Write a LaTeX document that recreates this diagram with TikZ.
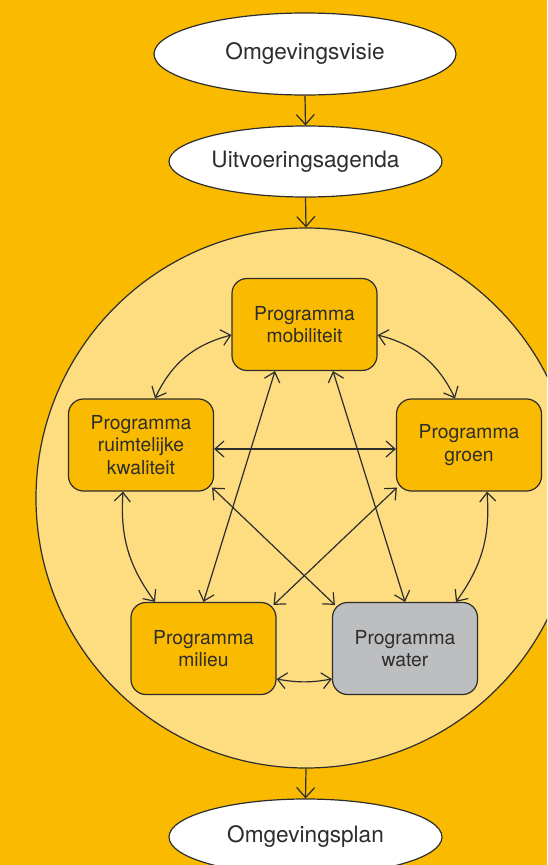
\documentclass[tikz,border=0pt]{standalone}
\usepackage{fontspec}
\setmainfont{TeX Gyre Heros}
\usetikzlibrary{shapes.geometric,arrows.meta,calc}
\definecolor{bgorange}{RGB}{249,186,0}
\definecolor{circfill}{RGB}{253,221,128}
\definecolor{watergray}{RGB}{189,190,192}
\definecolor{ink}{RGB}{45,45,45}
\begin{document}
\begin{tikzpicture}[x=1pt,y=-1pt,
  oval/.style={ellipse, draw=ink, line width=1.2pt, fill=white, inner sep=0pt, text=ink,
    font=\fontsize{22.6}{26}\selectfont},
  prog/.style={draw=ink, line width=1.2pt, fill=bgorange, rounded corners=15pt,
    minimum width=145pt, minimum height=92pt, inner sep=0pt, align=center, text=ink,
    font=\fontsize{19.3}{22.7}\selectfont},
  link/.style={draw=ink, line width=1.2pt, {Straight Barb[length=9pt,width=16pt]}-{Straight Barb[length=9pt,width=16pt]}},
  flow/.style={draw=ink, line width=1.2pt, -{Straight Barb[length=10pt,width=18pt]}}]
\useasboundingbox (0,0) rectangle (547,865);
\fill[bgorange] (0,0) rectangle (547,865);
\clip (0,0) rectangle (547,865);

\node[circle, draw=ink, line width=1.2pt, fill=circfill, minimum size=540pt, inner sep=0pt] (circ) at (306,498) {};

\node[oval, minimum width=302pt, minimum height=82pt] (visie) at (305,54) {Omgevingsvisie};
\node[oval, minimum width=273pt, minimum height=71pt] (agenda) at (305.5,161.5) {Uitvoeringsagenda};
\node[oval, minimum width=273pt, minimum height=76pt] (plan) at (305.5,837) {Omgevingsplan};

\draw[flow] (visie.south) -- (agenda.north);
\draw[flow] (agenda.south) -- (circ.north);
\draw[flow] (circ.south) -- (plan.north);

\node[prog] (mob) at (304.5,324.5) {Programma\\mobiliteit};
\node[prog] (ruim) at (141,445) {Programma\\ruimtelijke\\kwaliteit};
\node[prog] (groen) at (469,445) {Programma\\groen};
\node[prog] (mil) at (203.5,648.5) {Programma\\milieu};
\node[prog, fill=watergray] (water) at (405,648.5) {Programma\\water};

% outer ring links
\draw[link] ($(mob.west)+(0,10.5)$) to[bend right=25] ($(ruim.north)+(14,0)$);
\draw[link] ($(mob.east)+(0,10.5)$) to[bend left=25] ($(groen.north)+(-14,0)$);
\draw[link] ($(ruim.south)+(-18,0)$) to[bend right=20] ($(mil.north)+(-48.5,0)$);
\draw[link] ($(groen.south)+(18,0)$) to[bend left=20] ($(water.north)+(51,0)$);
\draw[link] ($(mil.east)+(0,30.5)$) to[bend right=10] ($(water.west)+(0,30.5)$);
\draw[link] ($(ruim.east)+(0,4)$) -- ($(groen.west)+(0,4)$);

% star links
\draw[link] ($(mob.south)+(-29.5,0)$) -- ($(mil.north)+(0,0)$);
\draw[link] ($(mob.south)+(28.5,0)$) -- ($(water.north)+(0,0)$);
\draw[link] ($(ruim.south east)+(-2,-4)$) -- ($(water.north west)+(3,3)$);
\draw[link] ($(groen.south west)+(1,-4)$) -- ($(mil.north east)+(-3,3)$);
\end{tikzpicture}
\end{document}
